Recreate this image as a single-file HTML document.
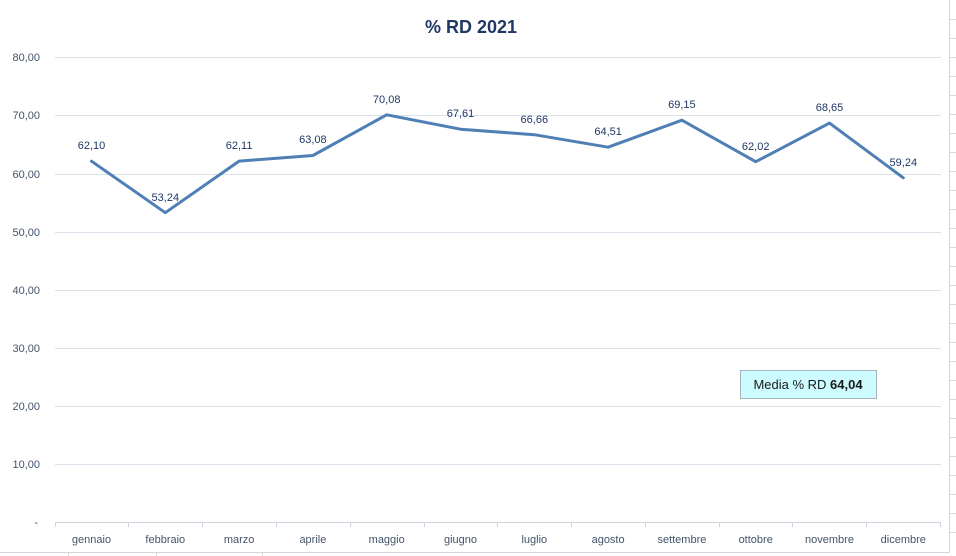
<!DOCTYPE html>
<html><head><meta charset="utf-8"><style>
html,body{margin:0;padding:0;background:#fff}
svg{display:block;font-family:"Liberation Sans",sans-serif}
</style></head><body>
<svg width="956" height="556" viewBox="0 0 956 556">
<rect x="0" y="0" width="956" height="556" fill="#fff"/>
<line x1="949.5" y1="0" x2="949.5" y2="552" stroke="#d0d7e0"/>
<line x1="0" y1="552.5" x2="950" y2="552.5" stroke="#d0d7e0"/>
<g stroke="#d9d9d9">
<line x1="950" y1="19.5" x2="956" y2="19.5"/><line x1="950" y1="38.5" x2="956" y2="38.5"/><line x1="950" y1="57.5" x2="956" y2="57.5"/><line x1="950" y1="76.5" x2="956" y2="76.5"/><line x1="950" y1="95.5" x2="956" y2="95.5"/><line x1="950" y1="114.5" x2="956" y2="114.5"/><line x1="950" y1="133.5" x2="956" y2="133.5"/><line x1="950" y1="152.5" x2="956" y2="152.5"/><line x1="950" y1="171.5" x2="956" y2="171.5"/><line x1="950" y1="190.5" x2="956" y2="190.5"/><line x1="950" y1="209.5" x2="956" y2="209.5"/><line x1="950" y1="228.5" x2="956" y2="228.5"/><line x1="950" y1="247.5" x2="956" y2="247.5"/><line x1="950" y1="266.5" x2="956" y2="266.5"/><line x1="950" y1="285.5" x2="956" y2="285.5"/><line x1="950" y1="304.5" x2="956" y2="304.5"/><line x1="950" y1="323.5" x2="956" y2="323.5"/><line x1="950" y1="342.5" x2="956" y2="342.5"/><line x1="950" y1="361.5" x2="956" y2="361.5"/><line x1="950" y1="380.5" x2="956" y2="380.5"/><line x1="950" y1="399.5" x2="956" y2="399.5"/><line x1="950" y1="418.5" x2="956" y2="418.5"/><line x1="950" y1="437.5" x2="956" y2="437.5"/><line x1="950" y1="456.5" x2="956" y2="456.5"/><line x1="950" y1="475.5" x2="956" y2="475.5"/><line x1="950" y1="494.5" x2="956" y2="494.5"/><line x1="950" y1="513.5" x2="956" y2="513.5"/><line x1="950" y1="532.5" x2="956" y2="532.5"/>
<line x1="68.5" y1="552" x2="68.5" y2="556"/><line x1="156.5" y1="552" x2="156.5" y2="556"/><line x1="262.5" y1="552" x2="262.5" y2="556"/>
</g>
<text x="471" y="33" text-anchor="middle" font-size="18" font-weight="bold" fill="#1f3864">% RD 2021</text>
<g stroke="#d9e1ea" stroke-width="1">
<line x1="55" y1="57.5" x2="941" y2="57.5"/><line x1="55" y1="115.5" x2="941" y2="115.5"/><line x1="55" y1="174.5" x2="941" y2="174.5"/><line x1="55" y1="232.5" x2="941" y2="232.5"/><line x1="55" y1="290.5" x2="941" y2="290.5"/><line x1="55" y1="348.5" x2="941" y2="348.5"/><line x1="55" y1="406.5" x2="941" y2="406.5"/><line x1="55" y1="464.5" x2="941" y2="464.5"/>
<line x1="55" y1="522.5" x2="941" y2="522.5" stroke="#ccd3dc"/>
</g>
<g stroke="#ccd3dc"><line x1="55.5" y1="522" x2="55.5" y2="527"/><line x1="128.5" y1="522" x2="128.5" y2="527"/><line x1="202.5" y1="522" x2="202.5" y2="527"/><line x1="276.5" y1="522" x2="276.5" y2="527"/><line x1="350.5" y1="522" x2="350.5" y2="527"/><line x1="424.5" y1="522" x2="424.5" y2="527"/><line x1="497.5" y1="522" x2="497.5" y2="527"/><line x1="571.5" y1="522" x2="571.5" y2="527"/><line x1="645.5" y1="522" x2="645.5" y2="527"/><line x1="719.5" y1="522" x2="719.5" y2="527"/><line x1="792.5" y1="522" x2="792.5" y2="527"/><line x1="866.5" y1="522" x2="866.5" y2="527"/><line x1="940.5" y1="522" x2="940.5" y2="527"/></g>
<g font-size="11" fill="#44546a" text-anchor="end">
<text x="40" y="61">80,00</text><text x="40" y="119">70,00</text><text x="40" y="178">60,00</text><text x="40" y="236">50,00</text><text x="40" y="294">40,00</text><text x="40" y="352">30,00</text><text x="40" y="410">20,00</text><text x="40" y="468">10,00</text><text x="38" y="526">-</text>
</g>
<g font-size="11" fill="#44546a" text-anchor="middle">
<text x="91.5" y="543">gennaio</text><text x="165.3" y="543">febbraio</text><text x="239.1" y="543">marzo</text><text x="312.9" y="543">aprile</text><text x="386.7" y="543">maggio</text><text x="460.5" y="543">giugno</text><text x="534.3" y="543">luglio</text><text x="608.1" y="543">agosto</text><text x="681.9" y="543">settembre</text><text x="755.7" y="543">ottobre</text><text x="829.5" y="543">novembre</text><text x="903.3" y="543">dicembre</text>
</g>
<polyline fill="none" stroke="#4f7fb5" stroke-width="3" stroke-linejoin="round" stroke-linecap="round" points="91.5,161.2 165.3,212.7 239.1,161.1 312.9,155.5 386.7,114.8 460.5,129.2 534.3,134.7 608.1,147.2 681.9,120.2 755.7,161.7 829.5,123.1 903.3,177.8"/>
<g font-size="11" fill="#1f3864" text-anchor="middle">
<text x="91.5" y="149">62,10</text><text x="165.3" y="201">53,24</text><text x="239.1" y="149">62,11</text><text x="312.9" y="143">63,08</text><text x="386.7" y="103">70,08</text><text x="460.5" y="117">67,61</text><text x="534.3" y="123">66,66</text><text x="608.1" y="135">64,51</text><text x="681.9" y="108">69,15</text><text x="755.7" y="150">62,02</text><text x="829.5" y="111">68,65</text><text x="903.3" y="166">59,24</text>
</g>
<rect x="740.5" y="370.5" width="136" height="28" fill="#ccfcff" stroke="#a6b4bc"/>
<text x="808" y="389" text-anchor="middle" font-size="13" fill="#1a1a1a">Media % RD <tspan font-weight="bold">64,04</tspan></text>
</svg>
</body></html>
